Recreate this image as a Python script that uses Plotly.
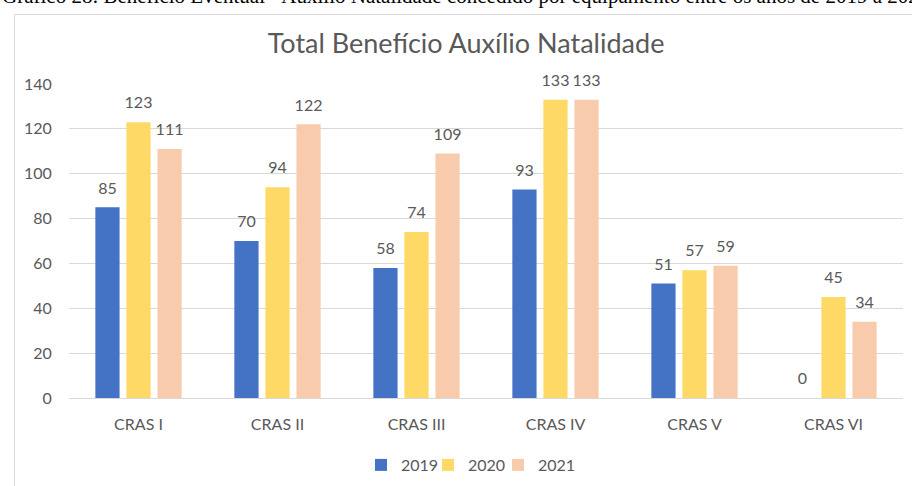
import plotly.graph_objects as go

categories = ["CRAS I", "CRAS II", "CRAS III", "CRAS IV", "CRAS V", "CRAS VI"]
series_names = ["2019", "2020", "2021"]
v2019 = [85, 70, 58, 93, 51, 0]
v2020 = [123, 94, 74, 133, 57, 45]
v2021 = [111, 122, 109, 133, 59, 34]
y_ticks = [0, 20, 40, 60, 80, 100, 120, 140]

colors = ["#4472C4", "#FFD966", "#F8CBAD"]
FONT = "Lato, 'Open Sans', sans-serif"
GRAY = "#595959"

W, H = 912, 486
L, R, T, B = 69, 9, 84, 88
pw, ph = W - L - R, H - T - B

def px(x):
    return (x - L) / pw

def py(y):
    return (H - B - y) / ph

fig = go.Figure()
legend_ids = ["legend", "legend2", "legend3"]
for i, (name, vals, col) in enumerate(zip(series_names, [v2019, v2020, v2021], colors)):
    fig.add_trace(go.Bar(
        x=categories, y=vals, name=name, marker_color=col,
        marker_line_width=0, offsetgroup=str(i), legend=legend_ids[i],
    ))
for i, vals in enumerate([v2019, v2020, v2021]):
    fig.add_trace(go.Scatter(
        x=categories, y=vals, mode="markers+text", offsetgroup=str(i),
        text=[str(v) for v in vals], textposition="top center",
        marker=dict(size=14, color="rgba(0,0,0,0)"),
        textfont=dict(family=FONT, size=16, color=GRAY),
        showlegend=False, hoverinfo="skip", cliponaxis=False,
    ))

legend_common = dict(orientation="h", yanchor="middle", y=py(465),
                     font=dict(family=FONT, size=16, color=GRAY), itemwidth=30,
                     bgcolor="rgba(0,0,0,0)")
leg_x = [361, 428, 498]

fig.update_layout(
    width=W, height=H,
    margin=dict(l=L, r=R, t=T, b=B, autoexpand=False),
    paper_bgcolor="white", plot_bgcolor="white",
    barmode="group", bargap=0.33, bargroupgap=0.22,
    scattermode="group", scattergap=0.33,
    font=dict(family=FONT, size=16, color=GRAY),
    title=dict(text="Total Benefício Auxílio Natalidade", x=0.511, xanchor="center",
               y=1 - 44 / H, yanchor="middle",
               font=dict(family=FONT, size=27, color=GRAY)),
    showlegend=True,
    legend=dict(x=px(leg_x[0]), xanchor="left", **legend_common),
    legend2=dict(x=px(leg_x[1]), xanchor="left", **legend_common),
    legend3=dict(x=px(leg_x[2]), xanchor="left", **legend_common),
    xaxis=dict(showline=True, linecolor="#D9D9D9", linewidth=1,
               ticks="outside", ticklen=12, tickcolor="rgba(0,0,0,0)",
               tickfont=dict(family=FONT, size=16, color=GRAY)),
    yaxis=dict(range=[0, 140], tickvals=y_ticks, showgrid=True, gridcolor="#D9D9D9",
               gridwidth=1, zeroline=False, showline=False,
               ticks="outside", ticklen=13, tickcolor="rgba(0,0,0,0)",
               tickfont=dict(family=FONT, size=16, color=GRAY)),
)

# chart frame (decorative)
fig.add_shape(type="line", xref="paper", yref="paper",
              x0=px(14.5), x1=px(14.5), y0=py(14.5), y1=py(500),
              line=dict(color="#D9D9D9", width=1))
fig.add_shape(type="line", xref="paper", yref="paper",
              x0=px(14.5), x1=px(930), y0=py(14.5), y1=py(14.5),
              line=dict(color="#D9D9D9", width=1))

# cut-off document caption at the top
fig.add_annotation(xref="paper", yref="paper", x=px(0), y=py(10), xanchor="left", yanchor="bottom",
                   text="Gráfico 28: Benefício Eventual - Auxílio Natalidade concedido por equipamento entre os anos de 2019 a 2021",
                   showarrow=False, font=dict(family="Liberation Serif", size=21, color="black"))

fig.write_html("out.html", config={"displayModeBar": False},
               post_script="document.body.style.margin='0';document.body.style.overflow='hidden';")
